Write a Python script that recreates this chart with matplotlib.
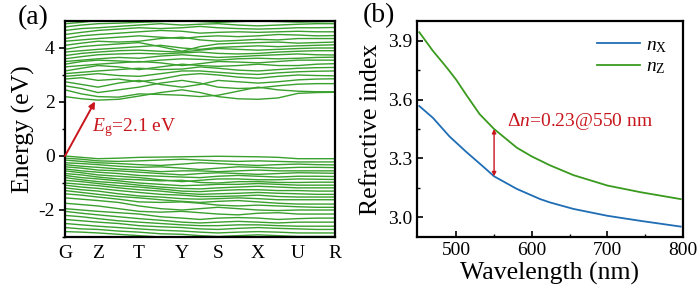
import numpy as np
import matplotlib
matplotlib.use("Agg")
import matplotlib.pyplot as plt

plt.rcParams['font.family'] = ['Liberation Serif', 'DejaVu Serif']
plt.rcParams['mathtext.fontset'] = 'custom'
plt.rcParams['mathtext.rm'] = 'Liberation Serif'
plt.rcParams['mathtext.it'] = 'Liberation Serif:italic'
plt.rcParams['mathtext.bf'] = 'Liberation Serif:bold'
plt.rcParams['axes.unicode_minus'] = False

# ---------------- panel (a): band structure ----------------
kpoint_labels = ['G', 'Z', 'T', 'Y', 'S', 'X', 'U', 'R']
kpoint_dist = [0, 33, 74, 117, 153, 193, 233, 270]
# energies sampled at each high-symmetry point and midpoints (15 samples)
conduction_bands = [
    [2.20, 2.12, 2.07, 2.10, 2.22, 2.35, 2.45, 2.35, 2.20, 2.12, 2.10, 2.15, 2.32, 2.35, 2.36],
    [2.45, 2.30, 2.20, 2.18, 2.30, 2.28, 2.25, 2.20, 2.25, 2.40, 2.55, 2.45, 2.40, 2.38, 2.38],
    [2.60, 2.50, 2.35, 2.45, 2.55, 2.70, 2.80, 2.70, 2.55, 2.50, 2.52, 2.60, 2.66, 2.68, 2.68],
    [2.75, 2.65, 2.55, 2.70, 2.80, 2.65, 2.55, 2.65, 2.80, 2.75, 2.70, 2.75, 2.82, 2.85, 2.86],
    [2.85, 2.90, 2.80, 2.85, 2.75, 2.85, 3.00, 3.05, 3.00, 2.92, 2.88, 2.95, 3.00, 2.98, 2.97],
    [2.95, 3.00, 3.05, 2.98, 2.95, 3.05, 3.15, 3.15, 3.10, 3.05, 3.02, 3.08, 3.12, 3.14, 3.15],
    [3.05, 3.10, 3.15, 3.20, 3.25, 3.20, 3.22, 3.30, 3.25, 3.18, 3.15, 3.20, 3.25, 3.27, 3.28],
    [3.15, 3.25, 3.35, 3.30, 3.20, 3.30, 3.40, 3.35, 3.32, 3.35, 3.40, 3.35, 3.35, 3.40, 3.42],
    [3.30, 3.35, 3.40, 3.45, 3.50, 3.45, 3.35, 3.42, 3.50, 3.48, 3.45, 3.50, 3.55, 3.55, 3.55],
    [3.40, 3.50, 3.55, 3.52, 3.48, 3.55, 3.60, 3.58, 3.55, 3.60, 3.62, 3.60, 3.62, 3.65, 3.66],
    [3.50, 3.55, 3.60, 3.65, 3.62, 3.70, 3.75, 3.70, 3.65, 3.68, 3.72, 3.75, 3.78, 3.75, 3.74],
    [3.60, 3.68, 3.75, 3.78, 3.80, 3.78, 3.82, 3.85, 3.80, 3.78, 3.80, 3.85, 3.88, 3.90, 3.90],
    [3.72, 3.80, 3.85, 3.90, 3.92, 3.88, 3.85, 3.92, 3.98, 3.95, 3.92, 3.95, 3.98, 4.00, 4.00],
    [3.85, 3.90, 3.95, 4.00, 4.05, 4.10, 4.00, 3.95, 4.02, 4.05, 4.08, 4.05, 4.08, 4.10, 4.12],
    [3.95, 4.05, 4.10, 4.15, 4.20, 4.05, 3.88, 4.05, 4.15, 4.18, 4.20, 4.22, 4.18, 4.20, 4.22],
    [4.10, 4.18, 4.25, 4.22, 4.25, 4.35, 4.40, 4.30, 4.25, 4.28, 4.32, 4.30, 4.35, 4.35, 4.35],
    [4.25, 4.30, 4.35, 4.40, 4.45, 4.40, 4.35, 4.42, 4.45, 4.42, 4.45, 4.50, 4.48, 4.45, 4.46],
    [4.35, 4.45, 4.50, 4.55, 4.60, 4.65, 4.62, 4.55, 4.58, 4.60, 4.58, 4.60, 4.62, 4.60, 4.60],
    [4.50, 4.58, 4.65, 4.70, 4.75, 4.72, 4.75, 4.80, 4.75, 4.72, 4.70, 4.72, 4.75, 4.75, 4.76],
    [4.65, 4.72, 4.75, 4.80, 4.85, 4.90, 4.85, 4.88, 4.90, 4.85, 4.82, 4.85, 4.88, 4.90, 4.90],
    [4.78, 4.85, 4.90, 4.92, 4.95, 4.98, 5.02, 4.98, 4.95, 4.98, 5.00, 4.98, 4.96, 4.97, 4.98],
    [4.90, 4.95, 5.02, 5.05, 5.05, 5.10, 5.10, 5.08, 5.05, 5.05, 5.08, 5.10, 5.05, 5.05, 5.05],
]
valence_bands = [
    [0.00, -0.05, -0.10, -0.08, -0.05, -0.04, -0.03, -0.02, -0.01, -0.02, -0.03, -0.05, -0.10, -0.10, -0.10],
    [-0.08, -0.12, -0.18, -0.20, -0.18, -0.15, -0.12, -0.15, -0.18, -0.20, -0.18, -0.20, -0.22, -0.22, -0.22],
    [-0.15, -0.20, -0.25, -0.28, -0.32, -0.35, -0.30, -0.25, -0.28, -0.32, -0.35, -0.32, -0.30, -0.32, -0.33],
    [-0.25, -0.28, -0.32, -0.38, -0.42, -0.40, -0.45, -0.50, -0.45, -0.40, -0.42, -0.45, -0.42, -0.42, -0.43],
    [-0.32, -0.38, -0.42, -0.48, -0.52, -0.58, -0.55, -0.55, -0.58, -0.55, -0.52, -0.55, -0.55, -0.55, -0.55],
    [-0.40, -0.45, -0.52, -0.55, -0.60, -0.65, -0.70, -0.65, -0.62, -0.65, -0.68, -0.65, -0.62, -0.63, -0.64],
    [-0.48, -0.55, -0.60, -0.65, -0.72, -0.75, -0.78, -0.80, -0.75, -0.72, -0.75, -0.78, -0.75, -0.75, -0.76],
    [-0.55, -0.62, -0.70, -0.75, -0.80, -0.88, -0.95, -0.90, -0.85, -0.85, -0.88, -0.88, -0.85, -0.86, -0.87],
    [-0.65, -0.70, -0.78, -0.85, -0.88, -0.92, -0.90, -0.98, -1.00, -0.95, -0.95, -0.98, -0.98, -0.97, -0.97],
    [-0.72, -0.80, -0.85, -0.92, -1.00, -1.05, -1.10, -1.08, -1.05, -1.05, -1.02, -1.05, -1.08, -1.08, -1.08],
    [-0.80, -0.88, -0.95, -1.00, -1.08, -1.15, -1.20, -1.22, -1.18, -1.15, -1.12, -1.15, -1.18, -1.18, -1.18],
    [-0.90, -0.95, -1.02, -1.10, -1.15, -1.22, -1.30, -1.32, -1.28, -1.25, -1.25, -1.28, -1.28, -1.30, -1.30],
    [-1.00, -1.05, -1.10, -1.18, -1.25, -1.30, -1.38, -1.42, -1.40, -1.38, -1.35, -1.38, -1.40, -1.42, -1.42],
    [-1.08, -1.15, -1.20, -1.28, -1.35, -1.42, -1.45, -1.50, -1.50, -1.48, -1.45, -1.50, -1.52, -1.52, -1.52],
    [-1.18, -1.25, -1.30, -1.40, -1.48, -1.52, -1.58, -1.60, -1.58, -1.55, -1.58, -1.62, -1.62, -1.62, -1.62],
    [-1.28, -1.35, -1.42, -1.50, -1.55, -1.62, -1.68, -1.72, -1.68, -1.65, -1.70, -1.75, -1.78, -1.78, -1.78],
    [-1.40, -1.45, -1.52, -1.60, -1.70, -1.72, -1.70, -1.75, -1.82, -1.85, -1.82, -1.85, -1.88, -1.90, -1.90],
    [-1.55, -1.60, -1.65, -1.72, -1.85, -1.95, -2.00, -1.95, -1.90, -1.95, -2.00, -2.02, -2.00, -2.00, -2.00],
    [-1.75, -1.80, -1.85, -1.95, -2.05, -2.08, -2.05, -2.10, -2.15, -2.18, -2.12, -2.10, -2.15, -2.15, -2.15],
    [-1.95, -2.00, -2.05, -2.10, -2.15, -2.25, -2.30, -2.35, -2.30, -2.28, -2.30, -2.35, -2.32, -2.30, -2.30],
    [-2.05, -2.12, -2.18, -2.25, -2.32, -2.38, -2.45, -2.48, -2.45, -2.42, -2.45, -2.48, -2.45, -2.45, -2.45],
    [-2.20, -2.25, -2.32, -2.40, -2.45, -2.50, -2.55, -2.58, -2.58, -2.55, -2.55, -2.58, -2.60, -2.60, -2.60],
    [-2.35, -2.40, -2.45, -2.50, -2.58, -2.62, -2.65, -2.70, -2.72, -2.68, -2.65, -2.68, -2.70, -2.72, -2.72],
    [-2.50, -2.55, -2.60, -2.65, -2.70, -2.75, -2.78, -2.82, -2.85, -2.82, -2.80, -2.82, -2.85, -2.85, -2.85],
    [-2.65, -2.70, -2.72, -2.78, -2.82, -2.88, -2.90, -2.95, -2.98, -2.95, -2.92, -2.95, -2.98, -2.98, -2.98],
    [-2.80, -2.82, -2.85, -2.90, -2.95, -3.00, -3.02, -3.05, -3.08, -3.05, -3.02, -3.05, -3.08, -3.08, -3.08],
]
gap_label = '$E_\\mathrm{g}$=2.1 eV'
gap_arrow_start = (0, 0.0)
gap_arrow_end = (30, 2.02)

# ---------------- panel (b): refractive index ----------------
wavelength_z = [451, 469, 482, 490, 500, 513, 531, 550, 580, 600, 624, 655, 700, 744, 797]
n_z = [3.943, 3.848, 3.788, 3.750, 3.700, 3.625, 3.525, 3.45, 3.355, 3.31, 3.265, 3.215, 3.162, 3.128, 3.093]
wavelength_x = [451, 469, 491, 513, 536, 550, 580, 611, 624, 655, 700, 744, 797]
n_x = [3.567, 3.507, 3.412, 3.334, 3.257, 3.209, 3.145, 3.093, 3.076, 3.043, 3.008, 2.982, 2.953]
delta_label = '$\\Delta\\mathit{n}$=0.23@550 nm'
delta_wavelength = 550
delta_low, delta_high = 3.209, 3.45

GREEN_BAND = '#3aa02e'
BLUE = '#1f6db4'
GREEN = '#3a9a1e'
RED = '#c8161d'

fig = plt.figure(figsize=(7.0, 2.88), dpi=100)

# ---- (a)
ax1 = fig.add_axes([65/700, 51/288, 270/700, 216/288])
samples = []
for i in range(len(kpoint_dist) - 1):
    samples.append(kpoint_dist[i])
    samples.append((kpoint_dist[i] + kpoint_dist[i + 1]) / 2)
samples.append(kpoint_dist[-1])
ksamp = np.array(samples)
for band in conduction_bands + valence_bands:
    ax1.plot(ksamp, band, color=GREEN_BAND, lw=1.0, solid_capstyle='round',
             solid_joinstyle='round')
ax1.set_xlim(kpoint_dist[0], kpoint_dist[-1])
ax1.set_ylim(-3, 5)
ax1.set_xticks(kpoint_dist)
ax1.set_xticklabels(kpoint_labels, fontsize=14)
ax1.set_yticks([-2, 0, 2, 4])
ax1.set_yticks([-3, -1, 1, 3], minor=True)
ax1.tick_params(axis='y', which='major', direction='out', length=4, width=1.2, labelsize=14)
ax1.tick_params(axis='y', which='minor', direction='out', length=2.5, width=1.0)
ax1.tick_params(axis='x', length=0, pad=6)
ax1.set_ylabel('Energy (eV)', fontsize=18.5, labelpad=2)
for s in ax1.spines.values():
    s.set_linewidth(1.6)
ax1.annotate('', xy=gap_arrow_end, xytext=gap_arrow_start,
             arrowprops=dict(arrowstyle='-|>', color=RED, lw=1.4, mutation_scale=9,
                             shrinkA=0, shrinkB=0))
ax1.text(27, 1.05, gap_label, color=RED, fontsize=14, va='center', ha='left')
fig.text(18/700, 1 - 18/288, '(a)', fontsize=20, va='center', ha='left')

# ---- (b)
ax2 = fig.add_axes([417/700, 51/288, 266/700, 216/288])
ax2.plot(wavelength_x, n_x, color=BLUE, lw=1.3, label='$n_\\mathrm{X}$')
ax2.plot(wavelength_z, n_z, color=GREEN, lw=1.3, label='$n_\\mathrm{Z}$')
ax2.set_xlim(448, 800)
ax2.set_ylim(2.9, 4.0)
ax2.set_xticks([500, 600, 700, 800])
ax2.set_xticks([550, 650, 750], minor=True)
ax2.set_yticks([3.0, 3.3, 3.6, 3.9])
ax2.set_yticks([3.15, 3.45, 3.75], minor=True)
ax2.tick_params(which='major', direction='in', length=4, width=1.2, labelsize=14)
ax2.tick_params(which='minor', direction='in', length=2.5, width=1.0)
ax2.set_xlabel('Wavelength (nm)', fontsize=18.5, labelpad=2)
ax2.set_ylabel('Refractive index', fontsize=18.5, labelpad=4)
for s in ax2.spines.values():
    s.set_linewidth(1.6)
ax2.annotate('', xy=(delta_wavelength, delta_high), xytext=(delta_wavelength, delta_low),
             arrowprops=dict(arrowstyle='<|-|>', color=RED, lw=1.0, mutation_scale=6,
                             shrinkA=0, shrinkB=0))
ax2.text(567, 3.49, delta_label, color=RED, fontsize=14, va='center', ha='left')
leg = ax2.legend(loc='upper right', frameon=False, fontsize=14, handlelength=2.2,
                 handletextpad=0.3, borderaxespad=0.4, labelspacing=0.15)
fig.text(363/700, 1 - 16/288, '(b)', fontsize=20, va='center', ha='left')

fig.savefig('out.png', dpi=100)
